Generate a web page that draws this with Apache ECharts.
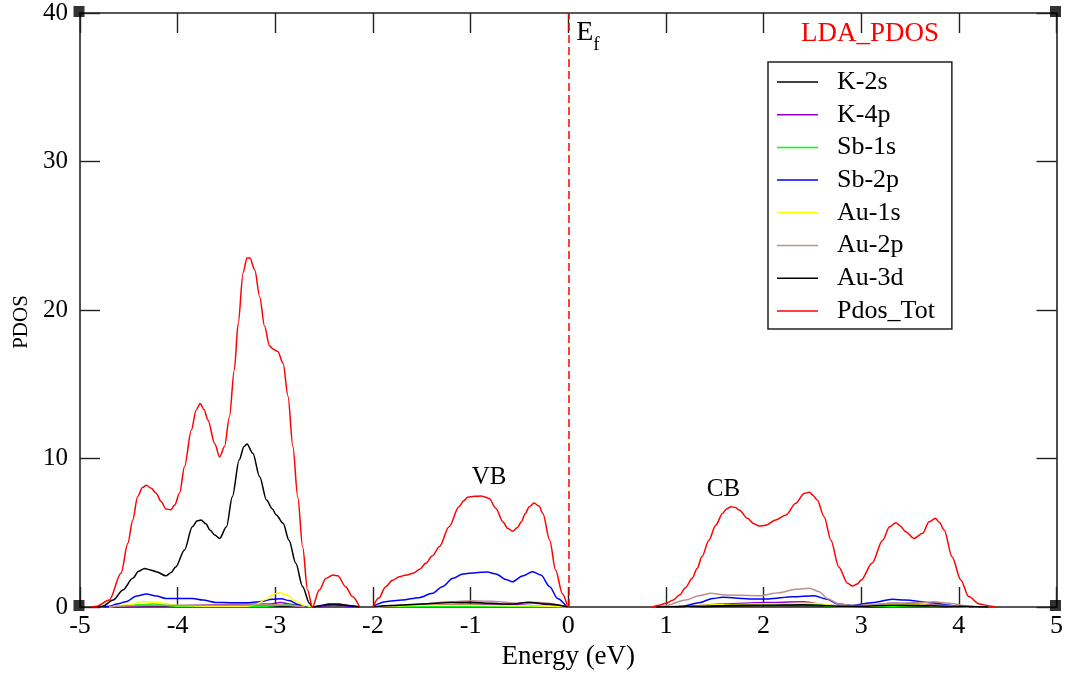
<!DOCTYPE html>
<html>
<head>
<meta charset="utf-8">
<script src="https://cdn.jsdelivr.net/npm/echarts@6/dist/echarts.min.js"></script>
<style>
  html, body { margin: 0; padding: 0; background: #fff; }
  #chart { width: 1066px; height: 676px; }
</style>
</head>
<body>
<div id="chart"></div>
<script>
// Projected density of states, LDA. Energies in eV relative to E_f.
// A null entry breaks the curve where it rests on zero.

const kTwoSE = [-4.70, -4.30, -3.00, -2.70, null, -2.00, -1.00, 0.00, null, 1.30, 2.00, 2.60, 3.00, 3.50, 4.00];
const kTwoSV = [0, 0.05, 0.08, 0, null, 0, 0.10, 0, null, 0, 0.10, 0.10, 0, 0.08, 0];

const kFourPE = [-4.60, -4.30, -3.05, -2.95, -2.80, -2.65, null, -2.55, -2.40, -2.20, null, -2.00, -1.50, -1.00, -0.60, -0.35, -0.10, 0.00, null, 1.20, 1.60, 2.00, 2.40, 2.70, 3.00, 3.35, 3.70, 4.00];
const kFourPV = [0, 0.08, 0.20, 0.30, 0.15, 0, null, 0, 0.15, 0, null, 0, 0.10, 0.20, 0.15, 0.25, 0.10, 0, null, 0, 0.20, 0.30, 0.35, 0.10, 0.05, 0.25, 0.15, 0];

const sbOneSE = [-4.70, -4.40, -4.25, -4.00, -3.10, -2.90, -2.75, -2.65, null, -2.00, -1.00, 0.00, null, 1.30, 1.60, 2.00, 2.50, 2.80, 3.20, 3.60, 4.00];
const sbOneSV = [0, 0.15, 0.20, 0.05, 0.05, 0.15, 0.10, 0, null, 0, 0.05, 0, null, 0, 0.15, 0.15, 0.15, 0, 0.05, 0.10, 0];

const sbTwoPE = [-4.75, -4.70, -4.62, -4.53, -4.42, -4.32, -4.22, -4.12, -3.95, -3.85, -3.74, -3.61, -3.45, -3.30, -3.16, -3.03, -2.94, -2.86, -2.75, -2.67,
  null, -2.62, -2.45, -2.30, -2.14,
  null, -2.00, -1.87, -1.70, -1.53, -1.39, -1.29, -1.18, -1.08, -0.945, -0.83, -0.74, -0.64, -0.57, -0.47, -0.365, -0.28, -0.19, -0.11, -0.02,
  null, 1.10, 1.17, 1.34, 1.48, 1.58, 1.885, 2.05, 2.30, 2.52, 2.64, 2.77, 2.91, 3.11, 3.32, 3.45, 3.70, 3.93, 4.00];
const sbTwoPV = [0, 0.05, 0.20, 0.36, 0.74, 0.875, 0.74, 0.58, 0.58, 0.58, 0.47, 0.31, 0.29, 0.29, 0.36, 0.52, 0.56, 0.43, 0.13, 0,
  null, 0, 0.15, 0.12, 0,
  null, 0.05, 0.36, 0.47, 0.63, 0.92, 1.37, 1.93, 2.22, 2.31, 2.36, 2.22, 1.86, 1.70, 2.09, 2.38, 2.15, 1.37, 0.58, 0.05,
  null, 0, 0.05, 0.29, 0.58, 0.65, 0.54, 0.54, 0.69, 0.76, 0.54, 0.20, 0.10, 0.29, 0.52, 0.47, 0.29, 0.10, 0];

const auOneSE = [-4.70, -4.50, -4.35, -4.20, -4.00, -3.60, -3.30, -3.20, -3.10, -3.00, -2.95, -2.88, -2.80, -2.70, -2.62,
  null, -2.00, -1.60, -1.20, -0.80, -0.40, 0.00,
  null, 1.20, 1.50, 2.00, 2.50, 2.80, 3.10, 3.40, 3.80, 4.10];
const auOneSV = [0, 0.15, 0.35, 0.30, 0.10, 0.05, 0.05, 0.15, 0.50, 0.90, 0.96, 0.80, 0.40, 0.10, 0,
  null, 0, 0.10, 0.12, 0.10, 0.08, 0,
  null, 0, 0.15, 0.20, 0.25, 0.05, 0.08, 0.18, 0.10, 0];

const auTwoPE = [-4.70, -4.40, -3.00, -2.70, null, -2.00, -1.60, -1.20, -1.00, -0.80, -0.50, -0.30, 0.00,
  null, 0.95, 1.00, 1.20, 1.34, 1.46, 1.61, 1.955, 2.16, 2.33, 2.47, 2.57, 2.65, 2.77, 2.91, 3.10, 3.30, 3.60, 3.75, 3.90, 4.10, 4.20];
const auTwoPV = [0, 0.10, 0.15, 0, null, 0, 0.15, 0.35, 0.42, 0.38, 0.25, 0.30, 0,
  null, 0, 0.10, 0.47, 0.76, 0.92, 0.81, 0.76, 0.96, 1.19, 1.26, 1.03, 0.58, 0.20, 0.10, 0.15, 0.25, 0.30, 0.35, 0.25, 0.05, 0];

const auThreeDE = [-4.82, -4.77, -4.66, -4.56, -4.46, -4.40, -4.34, -4.28, -4.22, -4.12, -4.07, -4.02, -3.93, -3.85, -3.80, -3.76, -3.71, -3.67, -3.62, -3.57,
  -3.50, -3.44, -3.37, -3.32, -3.29, -3.23, -3.16, -3.09, -3.03, -2.99, -2.92, -2.86, -2.79, -2.72, -2.65, -2.62,
  -2.55, -2.45, -2.35, -2.25, -2.14,
  null, -2.00, -1.80, -1.50, -1.20, -1.00, -0.80, -0.60, -0.40, -0.20, 0.00,
  null, 0.90, 1.30, 1.60, 2.00, 2.40, 2.80, 3.00, 3.30, 3.60, 4.00, 4.30];
const auThreeDV = [0, 0.05, 0.47, 1.14, 1.93, 2.40, 2.60, 2.50, 2.38, 2.10, 2.30, 2.70, 3.84, 5.40, 5.80, 5.86, 5.60, 5.19, 4.85, 4.62,
  5.40, 7.43, 9.90, 10.80, 10.98, 10.35, 8.77, 7.20, 6.60, 6.20, 5.64, 4.50, 2.94, 1.37, 0.25, 0,
  0.05, 0.20, 0.20, 0.10, 0,
  null, 0, 0.10, 0.20, 0.30, 0.32, 0.25, 0.20, 0.32, 0.20, 0,
  null, 0, 0.05, 0.10, 0.12, 0.15, 0.05, 0.05, 0.12, 0.10, 0.05, 0];

const totE = [-4.88, -4.83, -4.70, -4.58, -4.51, -4.46, -4.41, -4.36, -4.32, -4.27, -4.22, -4.17, -4.12, -4.07, -4.03, -3.98, -3.93, -3.86, -3.81, -3.77,
  -3.73, -3.69, -3.62, -3.57, -3.52, -3.47, -3.42, -3.38, -3.33, -3.29, -3.26, -3.21, -3.16, -3.11, -3.06, -3.02, -2.975, -2.92, -2.87, -2.82,
  -2.77, -2.72, -2.67, -2.62,
  -2.55, -2.48, -2.41, -2.36, -2.28, -2.21, -2.14,
  null, -2.00, -1.94, -1.87, -1.80, -1.73, -1.66, -1.59, -1.52, -1.46, -1.39, -1.32, -1.22, -1.12, -1.07, -1.03, -0.96, -0.89, -0.85, -0.81, -0.74,
  -0.67, -0.62, -0.57, -0.52, -0.48, -0.44, -0.40, -0.35, -0.30, -0.26, -0.19, -0.13, -0.06, -0.01,
  null, 0.86, 0.93, 1.00, 1.07, 1.14, 1.20, 1.27, 1.32, 1.37, 1.44, 1.51, 1.58, 1.62, 1.665, 1.71, 1.75, 1.835, 1.90, 1.955, 2.02,
  2.125, 2.23, 2.33, 2.415, 2.47, 2.51, 2.55, 2.62, 2.69, 2.77, 2.86, 2.91, 2.96, 3.00, 3.11, 3.22, 3.29, 3.355, 3.40, 3.455,
  3.54, 3.63, 3.695, 3.76, 3.80, 3.85, 3.93, 4.02, 4.10, 4.21, 4.33, 4.38];
const totV = [0, 0.05, 0.47, 2.27, 4.29, 5.86, 7.43, 8.05, 8.20, 8.00, 7.66, 7.10, 6.60, 6.55, 6.87, 7.68, 9.45, 11.90, 13.27, 13.70,
  13.30, 12.60, 11.00, 10.10, 10.80, 12.80, 15.96, 19.10, 22.50, 23.50, 23.50, 22.70, 20.90, 18.90, 17.60, 17.35, 17.20, 16.40, 14.20, 10.80,
  7.40, 4.06, 1.14, 0,
  1.14, 1.93, 2.15, 2.10, 1.37, 0.70, 0.05,
  null, 0, 0.60, 1.37, 1.80, 2.04, 2.15, 2.27, 2.55, 2.94, 3.45, 4.06, 5.40, 6.75, 7.15, 7.39, 7.45, 7.47, 7.40, 7.30, 6.64,
  5.74, 5.30, 5.10, 5.35, 5.74, 6.30, 6.75, 7.00, 6.80, 6.30, 4.50, 2.50, 0.90, 0.10,
  null, 0, 0.12, 0.25, 0.45, 0.80, 1.30, 1.93, 2.60, 3.40, 4.50, 5.50, 6.30, 6.60, 6.75, 6.70, 6.53, 5.97, 5.60, 5.45, 5.50,
  5.86, 6.20, 6.98, 7.65, 7.72, 7.50, 7.20, 6.08, 4.50, 2.70, 1.60, 1.41, 1.55, 1.82, 2.94, 4.50, 5.40, 5.68, 5.45, 5.07,
  4.62, 4.96, 5.74, 5.97, 5.70, 5.18, 3.39, 1.82, 0.70, 0.20, 0.05, 0];

const seriesNames = ['K-2s', 'K-4p', 'Sb-1s', 'Sb-2p', 'Au-1s', 'Au-2p', 'Au-3d', 'Pdos_Tot'];
const seriesColors = ['#000000', '#9400d3', '#00ff00', '#0000ff', '#ffff00', '#bc8f8f', '#000000', '#ff0000'];
const seriesEnergy = [kTwoSE, kFourPE, sbOneSE, sbTwoPE, auOneSE, auTwoPE, auThreeDE, totE];
const seriesPdos = [kTwoSV, kFourPV, sbOneSV, sbTwoPV, auOneSV, auTwoPV, auThreeDV, totV];

const xTicks = { min: -5, max: 5, step: 1 };
const yTicks = { min: 0, max: 40, step: 10 };

const SERIF = '"Liberation Serif", "DejaVu Serif", serif';

function pairs(es, vs) {
  return es.map((e, i) => (vs[i] === null ? [null, null] : [e, vs[i]]));
}

const axisLine = { show: true, onZero: false, lineStyle: { color: '#222', width: 1.6 } };
const axisTick = { show: true, inside: true, length: 20, lineStyle: { color: '#222', width: 1.4 } };

const lineSeries = seriesNames.map((name, i) => {
  const s = {
    name: name,
    type: 'line',
    data: pairs(seriesEnergy[i], seriesPdos[i]),
    showSymbol: false,
    symbol: 'none',
    connectNulls: false,
    smooth: 0.3,
    smoothMonotone: 'x',
    color: seriesColors[i],
    lineStyle: { color: seriesColors[i], width: 1.5 },
    emphasis: { disabled: true },
    animation: false
  };
  if (name === 'Pdos_Tot') {
    s.markLine = {
      silent: true,
      symbol: 'none',
      label: { show: false },
      lineStyle: { color: '#ff0000', type: [8, 4], width: 1.5 },
      data: [{ xAxis: 0 }],
      animation: false
    };
  }
  return s;
});

function noteLabel(extra) {
  return Object.assign({
    show: true, position: 'inside', fontFamily: SERIF, color: '#000',
    textBorderWidth: 0, textShadowBlur: 0, opacity: 1
  }, extra);
}

// Text annotations placed in data coordinates.
const notes = {
  type: 'scatter',
  name: 'notes',
  symbolSize: 1,
  itemStyle: { opacity: 0 },
  silent: true,
  clip: false,
  z: 5,
  animation: false,
  data: [
    {
      value: [0, 40],
      label: noteLabel({
        align: 'left', verticalAlign: 'top', offset: [8, -3],
        formatter: '{e|E}{f|f}',
        rich: {
          e: { fontFamily: SERIF, fontSize: 28, color: '#000' },
          f: { fontFamily: SERIF, fontSize: 19, color: '#000', padding: [26, 0, 0, 0] }
        }
      })
    },
    { value: [3.09, 38.6], label: noteLabel({ formatter: 'LDA_PDOS', fontSize: 27, color: '#ff0000' }) },
    { value: [-0.81, 8.7], label: noteLabel({ formatter: 'VB', fontSize: 25 }) },
    { value: [1.59, 7.9], label: noteLabel({ formatter: 'CB', fontSize: 25 }) }
  ]
};

// Small filled squares marking the frame corners.
const corners = {
  type: 'scatter',
  name: 'corners',
  symbol: 'rect',
  symbolSize: 11,
  symbolOffset: [-1, -1.5],
  itemStyle: { color: '#000' },
  silent: true,
  clip: false,
  z: 6,
  animation: false,
  data: [[xTicks.min, yTicks.min], [xTicks.max, yTicks.min], [xTicks.min, yTicks.max], [xTicks.max, yTicks.max]]
};

const chart = echarts.init(document.getElementById('chart'), null, { renderer: 'canvas' });
chart.setOption({
  backgroundColor: '#fff',
  animation: false,
  grid: { left: 80, right: 9, top: 13, bottom: 69, containLabel: false },
  legend: {
    data: seriesNames,
    orient: 'vertical',
    left: 768,
    top: 62,
    padding: [7, 17, 5, 9],
    backgroundColor: '#fff',
    borderColor: '#222',
    borderWidth: 1.5,
    borderRadius: 0,
    itemWidth: 41,
    itemHeight: 1.5,
    itemGap: 6.7,
    icon: 'rect',
    selectedMode: false,
    textStyle: { fontFamily: SERIF, fontSize: 26, color: '#000', lineHeight: 24, padding: [0, 0, 0, 14] }
  },
  xAxis: [
    {
      type: 'value', position: 'bottom',
      min: xTicks.min, max: xTicks.max, interval: xTicks.step,
      name: 'Energy (eV)', nameLocation: 'middle', nameGap: 34,
      nameTextStyle: { fontFamily: SERIF, fontSize: 27, color: '#000' },
      axisLine: axisLine, axisTick: axisTick, splitLine: { show: false },
      axisLabel: { fontFamily: SERIF, fontSize: 26, color: '#000', margin: 6 }
    },
    {
      type: 'value', position: 'top',
      min: xTicks.min, max: xTicks.max, interval: xTicks.step,
      axisLine: axisLine, axisTick: axisTick, splitLine: { show: false },
      axisLabel: { show: false }
    }
  ],
  yAxis: [
    {
      type: 'value', position: 'left',
      min: yTicks.min, max: yTicks.max, interval: yTicks.step,
      name: 'PDOS', nameLocation: 'middle', nameGap: 40,
      nameTextStyle: { fontFamily: SERIF, fontSize: 21, color: '#000', padding: [0, 24, 0, 0] },
      axisLine: axisLine, axisTick: axisTick, splitLine: { show: false },
      axisLabel: { fontFamily: SERIF, fontSize: 25, color: '#000', margin: 12 }
    },
    {
      type: 'value', position: 'right',
      min: yTicks.min, max: yTicks.max, interval: yTicks.step,
      axisLine: axisLine, axisTick: axisTick, splitLine: { show: false },
      axisLabel: { show: false }
    }
  ],
  tooltip: { show: false },
  series: lineSeries.concat([notes, corners])
});
</script>
</body>
</html>
